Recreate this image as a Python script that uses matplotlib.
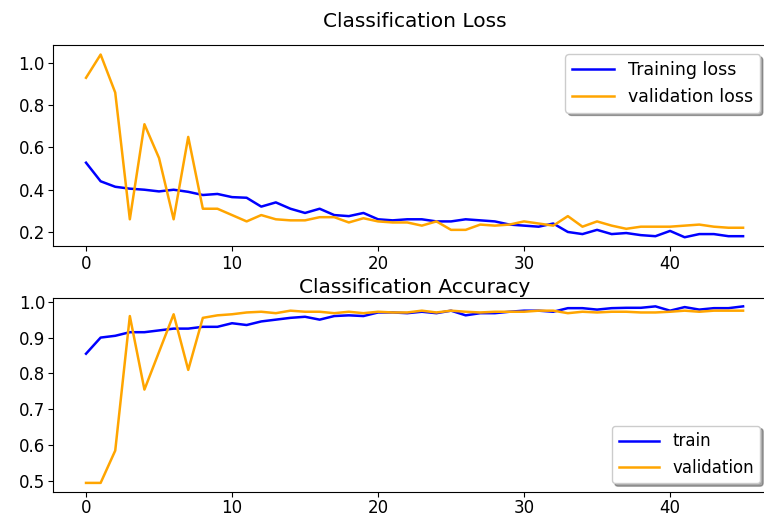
import numpy as np
import matplotlib
matplotlib.use("Agg")
import matplotlib.pyplot as plt
from matplotlib.ticker import MultipleLocator

# loss per epoch
train_loss = [0.528, 0.44, 0.414, 0.405, 0.40, 0.392, 0.40, 0.39, 0.375, 0.38,
              0.365, 0.362, 0.32, 0.34, 0.31, 0.29, 0.31, 0.28, 0.275, 0.29,
              0.26, 0.255, 0.26, 0.26, 0.25, 0.25, 0.26, 0.255, 0.25, 0.235,
              0.23, 0.225, 0.24, 0.20, 0.19, 0.21, 0.19, 0.195, 0.185, 0.18,
              0.205, 0.175, 0.19, 0.19, 0.18, 0.18]
val_loss = [0.93, 1.04, 0.86, 0.26, 0.71, 0.55, 0.26, 0.65, 0.31, 0.31,
            0.28, 0.25, 0.28, 0.26, 0.255, 0.255, 0.27, 0.27, 0.245, 0.265,
            0.25, 0.245, 0.245, 0.23, 0.25, 0.21, 0.21, 0.235, 0.23, 0.235,
            0.25, 0.24, 0.23, 0.275, 0.225, 0.25, 0.23, 0.215, 0.225, 0.225,
            0.225, 0.23, 0.235, 0.225, 0.22, 0.22]

# accuracy per epoch
train_acc = [0.855, 0.90, 0.905, 0.915, 0.915, 0.92, 0.925, 0.925, 0.93, 0.93,
             0.94, 0.935, 0.945, 0.95, 0.955, 0.958, 0.95, 0.96, 0.962, 0.96,
             0.97, 0.97, 0.968, 0.972, 0.968, 0.975, 0.962, 0.968, 0.968, 0.972,
             0.975, 0.975, 0.972, 0.982, 0.982, 0.978, 0.982, 0.983, 0.983, 0.987,
             0.975, 0.985, 0.978, 0.982, 0.982, 0.987]
val_acc = [0.495, 0.495, 0.585, 0.96, 0.755, 0.86, 0.965, 0.81, 0.955, 0.962,
           0.965, 0.97, 0.972, 0.968, 0.975, 0.972, 0.972, 0.968, 0.972, 0.968,
           0.972, 0.97, 0.97, 0.975, 0.97, 0.975, 0.972, 0.97, 0.972, 0.972,
           0.972, 0.975, 0.975, 0.968, 0.972, 0.97, 0.972, 0.972, 0.97, 0.97,
           0.972, 0.975, 0.972, 0.975, 0.975, 0.975]

epochs = np.arange(len(train_loss))

fig = plt.figure(figsize=(7.64, 5.22), dpi=100)
ax1 = fig.add_axes([0.0696, 0.528, 0.946, 0.385])
ax2 = fig.add_axes([0.0696, 0.058, 0.946, 0.372])

# Loss
ax1.plot(epochs, train_loss, color='blue', lw=1.8, label='Training loss')
ax1.plot(epochs, val_loss, color='orange', lw=1.8, label='validation loss')
ax1.set_title('Classification Loss', fontsize=14.5, pad=13)
ax1.legend(loc='upper right', shadow=True, fontsize=12.5, handlelength=2.4,
           bbox_to_anchor=(0.99, 1.0))
ax1.yaxis.set_major_locator(MultipleLocator(0.2))
ax1.tick_params(labelsize=12, pad=2.5)

# Accuracy
ax2.plot(epochs, train_acc, color='blue', lw=1.8, label='train')
ax2.plot(epochs, val_acc, color='orange', lw=1.8, label='validation')
ax2.set_title('Classification Accuracy', fontsize=14.5, pad=3)
ax2.legend(loc='lower right', shadow=True, fontsize=12, handlelength=2.4,
           bbox_to_anchor=(0.99, 0.0))
ax2.yaxis.set_major_locator(MultipleLocator(0.1))
ax2.tick_params(labelsize=12, pad=2)

plt.savefig('out.png', dpi=100)
